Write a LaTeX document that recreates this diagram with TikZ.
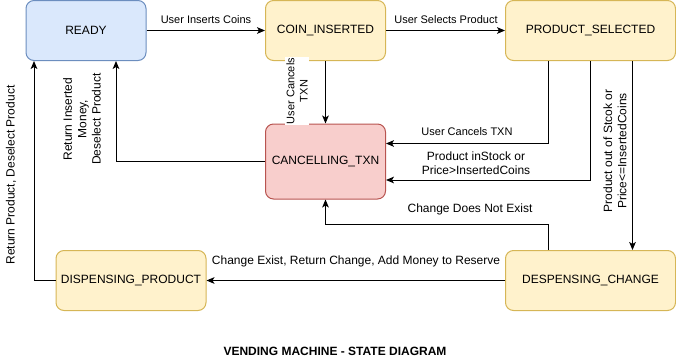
\documentclass[tikz,border=0pt]{standalone}
\usepackage{fontspec}
\setmainfont{Liberation Sans}
\usetikzlibrary{arrows.meta}

\definecolor{bluefill}{HTML}{DAE8FC}
\definecolor{blueline}{HTML}{6C8EBF}
\definecolor{yellowfill}{HTML}{FFF2CC}
\definecolor{yellowline}{HTML}{D6B656}
\definecolor{redfill}{HTML}{F8CECC}
\definecolor{redline}{HTML}{B85450}

\tikzset{
    state/.style={draw, rounded corners=6pt, line width=0.75pt, minimum height=45pt,
        inner sep=0pt, font=\fontsize{9}{10.8}\selectfont},
    trans/.style={-{Stealth[length=6pt,width=5pt,inset=1.5pt]}, line width=0.75pt},
    lbl/.style={fill=white, inner sep=1pt, align=center, font=\fontsize{8.25}{9.9}\selectfont},
    biglbl/.style={lbl, font=\fontsize{9}{10.8}\selectfont},
}

\begin{document}
\begin{tikzpicture}[x=0.75pt, y=-0.75pt]
    \useasboundingbox (0,0) rectangle (676,361);

    % states
    \node[state, fill=bluefill, draw=blueline, minimum width=90pt] (ready) at (86, 30.5) {READY};
    \node[state, fill=yellowfill, draw=yellowline, minimum width=90pt] (coin) at (325.5, 30.5) {COIN\_INSERTED};
    \node[state, fill=yellowfill, draw=yellowline, minimum width=127.5pt] (psel) at (590.5, 30.5) {PRODUCT\_SELECTED};
    \node[state, fill=redfill, draw=redline, minimum width=90pt, minimum height=56.25pt] (cancel) at (325.5, 161.5) {CANCELLING\_TXN};
    \node[state, fill=yellowfill, draw=yellowline, minimum width=112.5pt] (dprod) at (131, 280.5) {DISPENSING\_PRODUCT};
    \node[state, fill=yellowfill, draw=yellowline, minimum width=127.5pt] (dchange) at (590.5, 280.5) {DESPENSING\_CHANGE};

    % transitions
    \draw[trans] (ready) -- (coin);
    \draw[trans] (coin) -- (psel);
    \draw[trans] (coin) -- (cancel);
    \draw[trans] (cancel.west) -| ([shift={(30,0)}]ready.south);
    \draw[trans] (dprod.west) -| ([shift={(-52,0)}]ready.south);
    \draw[trans] ([shift={(-42,0)}]psel.south) |- ([shift={(0,-18)}]cancel.east);
    \draw[trans] (psel.south) |- ([shift={(0,18.5)}]cancel.east);
    \draw[trans] ([shift={(42,0)}]psel.south) -- ([shift={(42,0)}]dchange.north);
    \draw[trans] ([shift={(-42,0)}]dchange.north) |- ([shift={(0,25.3)}]cancel.south) -- (cancel.south);
    \draw[trans] (dchange) -- (dprod);

    % labels
    \node[lbl] (l1) at (206, 20) {User Inserts Coins};
    \node[lbl] (l2) at (446, 20) {User Selects Product};
    \node[lbl, rotate=90] (l3) at (297, 91) {User Cancels\\TXN};
    \node[biglbl, rotate=90] (l4) at (82, 119) {Return Inserted\\Money,\\Deselect Product};
    \node[biglbl, rotate=90] (l5) at (11, 175) {Return Product, Deselect Product};
    \node[lbl] (l6) at (467, 131.5) {User Cancels TXN};
    \node[biglbl] (l7) at (476, 163) {Product inStock or\\Price>InsertedCoins};
    \node[biglbl, rotate=90] (l8) at (615, 151) {Product out of Stcok or\\Price<=InsertedCoins};
    \node[biglbl] (l9) at (470, 209) {Change Does Not Exist};
    \node[biglbl] (l10) at (356, 261) {Change Exist, Return Change, Add Money to Reserve};

    \node[font=\bfseries\fontsize{9}{10.8}\selectfont] (title) at (335, 351) {VENDING MACHINE - STATE DIAGRAM};
\end{tikzpicture}
\end{document}
